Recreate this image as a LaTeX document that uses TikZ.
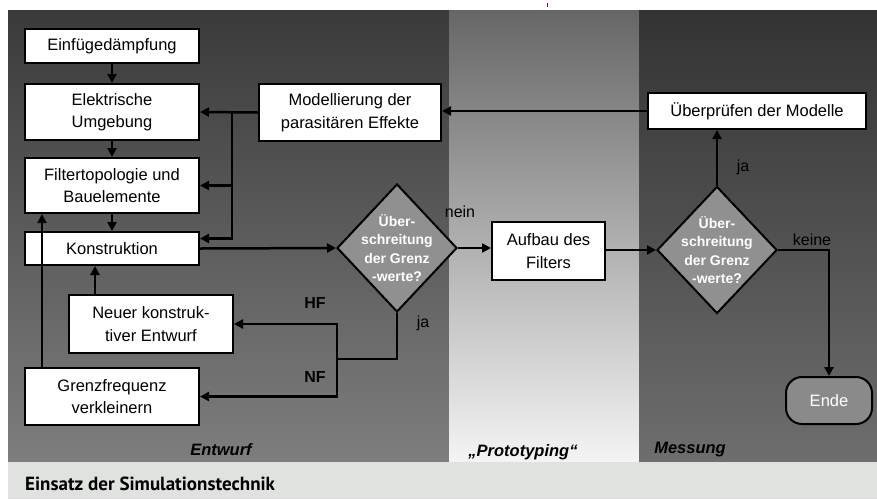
\documentclass[tikz,border=0pt]{standalone}
\usepackage{fontspec}
\setmainfont{Liberation Sans}
\newfontfamily\capfont{PT Sans}
\usetikzlibrary{shapes.geometric,arrows.meta,calc}
\definecolor{enttop}{HTML}{3A3A3A}
\definecolor{entbot}{HTML}{7E7E7E}
\definecolor{prottop}{HTML}{666666}
\definecolor{protbot}{HTML}{F4F4F4}
\definecolor{mestop}{HTML}{333333}
\definecolor{mesbot}{HTML}{6E6E6E}
\definecolor{capbg}{HTML}{E0E2E0}
\definecolor{diafill}{HTML}{909090}
\definecolor{endefill}{HTML}{8A8A8A}
\definecolor{tick}{HTML}{A00030}
\begin{document}
\begin{tikzpicture}[x=1pt,y=-1pt,
  box/.style={draw=black,line width=2pt,fill=white,align=center,inner sep=0pt,
    font=\fontsize{16.5}{22.5}\selectfont},
  dia/.style={diamond,draw=black,line width=2pt,fill=diafill,inner sep=0pt},
  diatext/.style={align=center,text=white,inner sep=0pt,
    font=\fontsize{14}{18.5}\selectfont\bfseries},
  arr/.style={line width=2.5pt,-{Triangle[length=9pt,width=9pt]}},
  ln/.style={line width=2.5pt},
  lbl/.style={inner sep=0pt,font=\fontsize{16}{19}\selectfont},
  blbl/.style={inner sep=0pt,font=\fontsize{16}{19}\selectfont\bfseries},
  panel/.style={inner sep=0pt,font=\fontsize{16.5}{19}\selectfont\bfseries\itshape}]
\fill[white] (0,0) rectangle (877,499);
\useasboundingbox (0,0) rectangle (877,499);
\fill[tick] (546.5,3) rectangle (547.8,7);
% panels
\shade[top color=enttop,bottom color=entbot] (8,10) rectangle (449,462);
\shade[top color=prottop,bottom color=protbot] (449,10) rectangle (639,462);
\shade[top color=mestop,bottom color=mesbot] (639,10) rectangle (877,462);
\fill[capbg] (8,462) rectangle (877,499);
\node[anchor=base west,inner sep=0pt,font=\capfont\fontsize{19}{22}\selectfont\bfseries] (cap) at (25,490) {Einsatz der Simulationstechnik};
% panel labels
\node[panel] (lent) at (221,450) {Entwurf};
\node[panel] (lprot) at (523,452) {„Prototyping“};
\node[panel] (lmes) at (690,450) {Messung};
% boxes
\node[box,minimum width=174pt,minimum height=34pt] (einf) at (112,46) {Einfügedämpfung};
\node[box,minimum width=174pt,minimum height=56pt] (elek) at (112,112) {Elektrische\\Umgebung};
\node[box,minimum width=174pt,minimum height=55pt] (filt) at (112,185.5) {Filtertopologie und\\Bauelemente};
\node[box,minimum width=174pt,minimum height=33pt] (kons) at (112,248.5) {Konstruktion};
\node[box,minimum width=164pt,minimum height=58pt] (neu) at (151,324) {Neuer konstruk-\\tiver Entwurf};
\node[box,minimum width=174pt,minimum height=57pt] (grenz) at (112,396.5) {Grenzfrequenz\\verkleinern};
\node[box,minimum width=182pt,minimum height=57pt] (mod) at (350,112.5) {Modellierung der\\parasitären Effekte};
\node[box,minimum width=113pt,minimum height=58pt] (aufbau) at (548.5,251) {Aufbau des\\Filters};
\node[box,minimum width=218pt,minimum height=36pt] (ueber) at (757,111) {Überprüfen der Modelle};
\node[box,fill=endefill,text=white,rounded corners=16pt,minimum width=86pt,minimum height=47pt] (ende) at (829,400.5) {Ende};
% diamonds
\node[dia,minimum width=120pt,minimum height=128pt] (d1) at (397,248) {};
\node[diatext] (d1t) at (d1.center) {Über-\\schreitung\\der Grenz\\-werte?};
\node[dia,minimum width=120pt,minimum height=127pt] (d2) at (717,250) {};
\node[diatext] (d2t) at (d2.center) {Über-\\schreitung\\der Grenz\\-werte?};
% labels
\node[lbl] (lnein) at (460,212) {nein};
\node[lbl] (lja1) at (743,167) {ja};
\node[lbl] (lkeine) at (812,240) {keine};
\node[lbl] (lja2) at (423,323) {ja};
\node[blbl] (lhf) at (315,303) {HF};
\node[blbl] (lnf) at (315,377) {NF};
% connectors
\draw[arr] (einf.south) -- (elek.north);
\draw[arr] (elek.south) -- (filt.north);
\draw[arr] (filt.south) -- (kons.north);
\draw[arr] (mod.west) -- (elek.east);
\coordinate (j1) at (232,112.5);
\draw[arr] (j1) |- (filt.east);
\draw[arr] (j1) |- ($(kons.east)+(0,-10)$);
\draw[arr] (kons.east) -- (d1.west);
\draw[arr] (d1.east) -- (d1.east -| aufbau.west);
\draw[arr] (aufbau.east |- d2.west) -- (d2.west);
\draw[arr] (d2.north) -- (d2.north |- ueber.south);
\draw[arr] (ueber.west) -- (ueber.west -| mod.east);
\draw[arr] (d2.east) -| (ende.north);
\coordinate (jj) at (337,359);
\draw[ln] (d1.south) |- (jj);
\draw[arr] (jj) |- (neu.east);
\draw[arr] (jj) |- (grenz.east);
\coordinate (nu) at ($(neu.north)+(-56,0)$);
\draw[arr] (nu) -- (nu |- kons.south);
\coordinate (gu) at ($(grenz.north)+(-70,0)$);
\draw[arr] (gu) -- (gu |- filt.south);
\end{tikzpicture}
\end{document}
